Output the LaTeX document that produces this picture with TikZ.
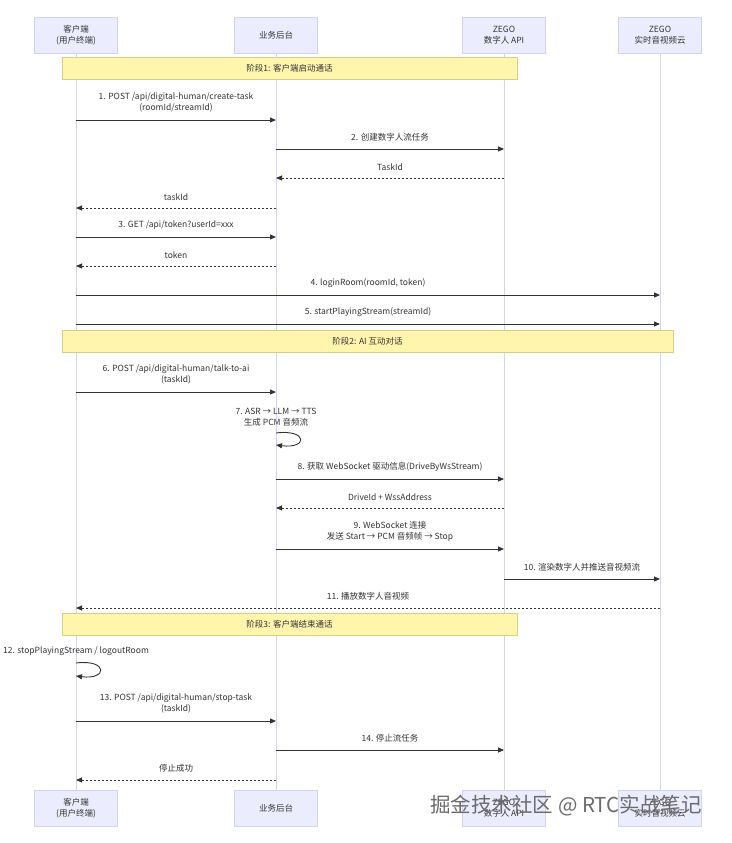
\documentclass[tikz,border=0pt]{standalone}
\usepackage{fontspec}
\setmainfont{Noto Sans CJK SC}
\usetikzlibrary{arrows.meta}

\definecolor{actorC}{HTML}{ECECFF}
\definecolor{lifeC}{HTML}{D2D2F4}
\definecolor{noteC}{HTML}{FFF5AD}
\definecolor{noteB}{HTML}{D6D084}
\definecolor{lineC}{HTML}{333333}
\newcommand\msgfont{\fontsize{8.5}{11}\selectfont}

\tikzset{
  actor/.style={draw=lifeC, fill=actorC, minimum width=83pt, minimum height=36pt, align=center, inner sep=1pt, font=\msgfont, text=lineC},
  life/.style={draw=lifeC, line width=0.7pt},
  note/.style={draw=noteB, fill=noteC, minimum height=22pt, inner sep=0pt, font=\msgfont, text=lineC},
  msg/.style={draw=lineC, line width=0.9pt, -{Triangle[length=6pt,width=5pt]}},
  reply/.style={msg, dash pattern=on 2pt off 2pt},
  lbl/.style={font=\msgfont, align=center, inner sep=0pt, text=lineC, above=7pt, midway},
  selflbl/.style={font=\msgfont, align=center, inner sep=0pt, text=lineC, anchor=south}
}

\begin{document}
\begin{tikzpicture}[x=1pt,y=-1pt]
    \useasboundingbox (0,0) rectangle (731,843);
    \fill[white] (0,0) rectangle (731,843);

    \node[actor] (cli) at (76,35) {客户端\\(用户终端)};
    \node[actor] (biz) at (276,35) {业务后台};
    \node[actor] (api) at (504,35) {ZEGO\\数字人 API};
    \node[actor] (rtc) at (660,35) {ZEGO\\实时音视频云};
    \node[actor] (cliB) at (76,808) {客户端\\(用户终端)};
    \node[actor] (bizB) at (276,808) {业务后台};
    \node[actor] (apiB) at (504,808) {ZEGO\\数字人 API};
    \node[actor] (rtcB) at (660,808) {ZEGO\\实时音视频云};
    \draw[life] (cli) -- (cliB);
    \draw[life] (biz) -- (bizB);
    \draw[life] (api) -- (apiB);
    \draw[life] (rtc) -- (rtcB);

    \node[note, minimum width=455pt] (ph1) at (289.5,68) {阶段1: 客户端启动通话};
    \draw[msg] (cli |- 0,120) -- node[lbl] {1. POST /api/digital-human/create-task\\(roomId/streamId)} (biz |- 0,120);
    \draw[msg] (biz |- 0,149) -- node[lbl] {2. 创建数字人流任务} (api |- 0,149);
    \draw[reply] (api |- 0,178) -- node[lbl] {TaskId} (biz |- 0,178);
    \draw[reply] (biz |- 0,208) -- node[lbl] {taskId} (cli |- 0,208);
    \draw[msg] (cli |- 0,237) -- node[lbl] {3. GET /api/token?userId=xxx} (biz |- 0,237);
    \draw[reply] (biz |- 0,266) -- node[lbl] {token} (cli |- 0,266);
    \draw[msg] (cli |- 0,295) -- node[lbl] {4. loginRoom(roomId, token)} (rtc |- 0,295);
    \draw[msg] (cli |- 0,324) -- node[lbl] {5. startPlayingStream(streamId)} (rtc |- 0,324);

    \node[note, minimum width=611pt] (ph2) at (367.5,341.5) {阶段2: AI 互动对话};
    \draw[msg] (cli |- 0,392) -- node[lbl] {6. POST /api/digital-human/talk-to-ai\\(taskId)} (biz |- 0,392);
    \node[selflbl] (l7) at (276,426) {7. ASR → LLM → TTS\\生成 PCM 音频流};
    \draw[msg] (biz |- 0,433) .. controls +(32,-4) and +(32,4) .. (biz |- 0,445);
    \draw[msg] (biz |- 0,479) -- node[lbl] {8. 获取 WebSocket 驱动信息(DriveByWsStream)} (api |- 0,479);
    \draw[reply] (api |- 0,508) -- node[lbl] {DriveId + WssAddress} (biz |- 0,508);
    \draw[msg] (biz |- 0,549) -- node[lbl] {9. WebSocket 连接\\发送 Start → PCM 音频帧 → Stop} (api |- 0,549);
    \draw[msg] (api |- 0,579) -- node[lbl] {10. 渲染数字人并推送音视频流} (rtc |- 0,579);
    \draw[reply] (rtc |- 0,608) -- node[lbl] {11. 播放数字人音视频} (cli |- 0,608);

    \node[note, minimum width=455pt] (ph3) at (289.5,624) {阶段3: 客户端结束通话};
    \node[selflbl] (l12) at (76,656) {12. stopPlayingStream / logoutRoom};
    \draw[msg] (cli |- 0,663) .. controls +(32,-4) and +(32,4) .. (cli |- 0,676);
    \draw[msg] (cli |- 0,721) -- node[lbl] {13. POST /api/digital-human/stop-task\\(taskId)} (biz |- 0,721);
    \draw[msg] (biz |- 0,750) -- node[lbl] {14. 停止流任务} (api |- 0,750);
    \draw[reply] (biz |- 0,780) -- node[lbl] {停止成功} (cli |- 0,780);

    \node[font=\fontsize{20.5}{22}\selectfont, text=black!58] (wm) at (566,806) {掘金技术社区 @ RTC实战笔记};
\end{tikzpicture}
\end{document}
